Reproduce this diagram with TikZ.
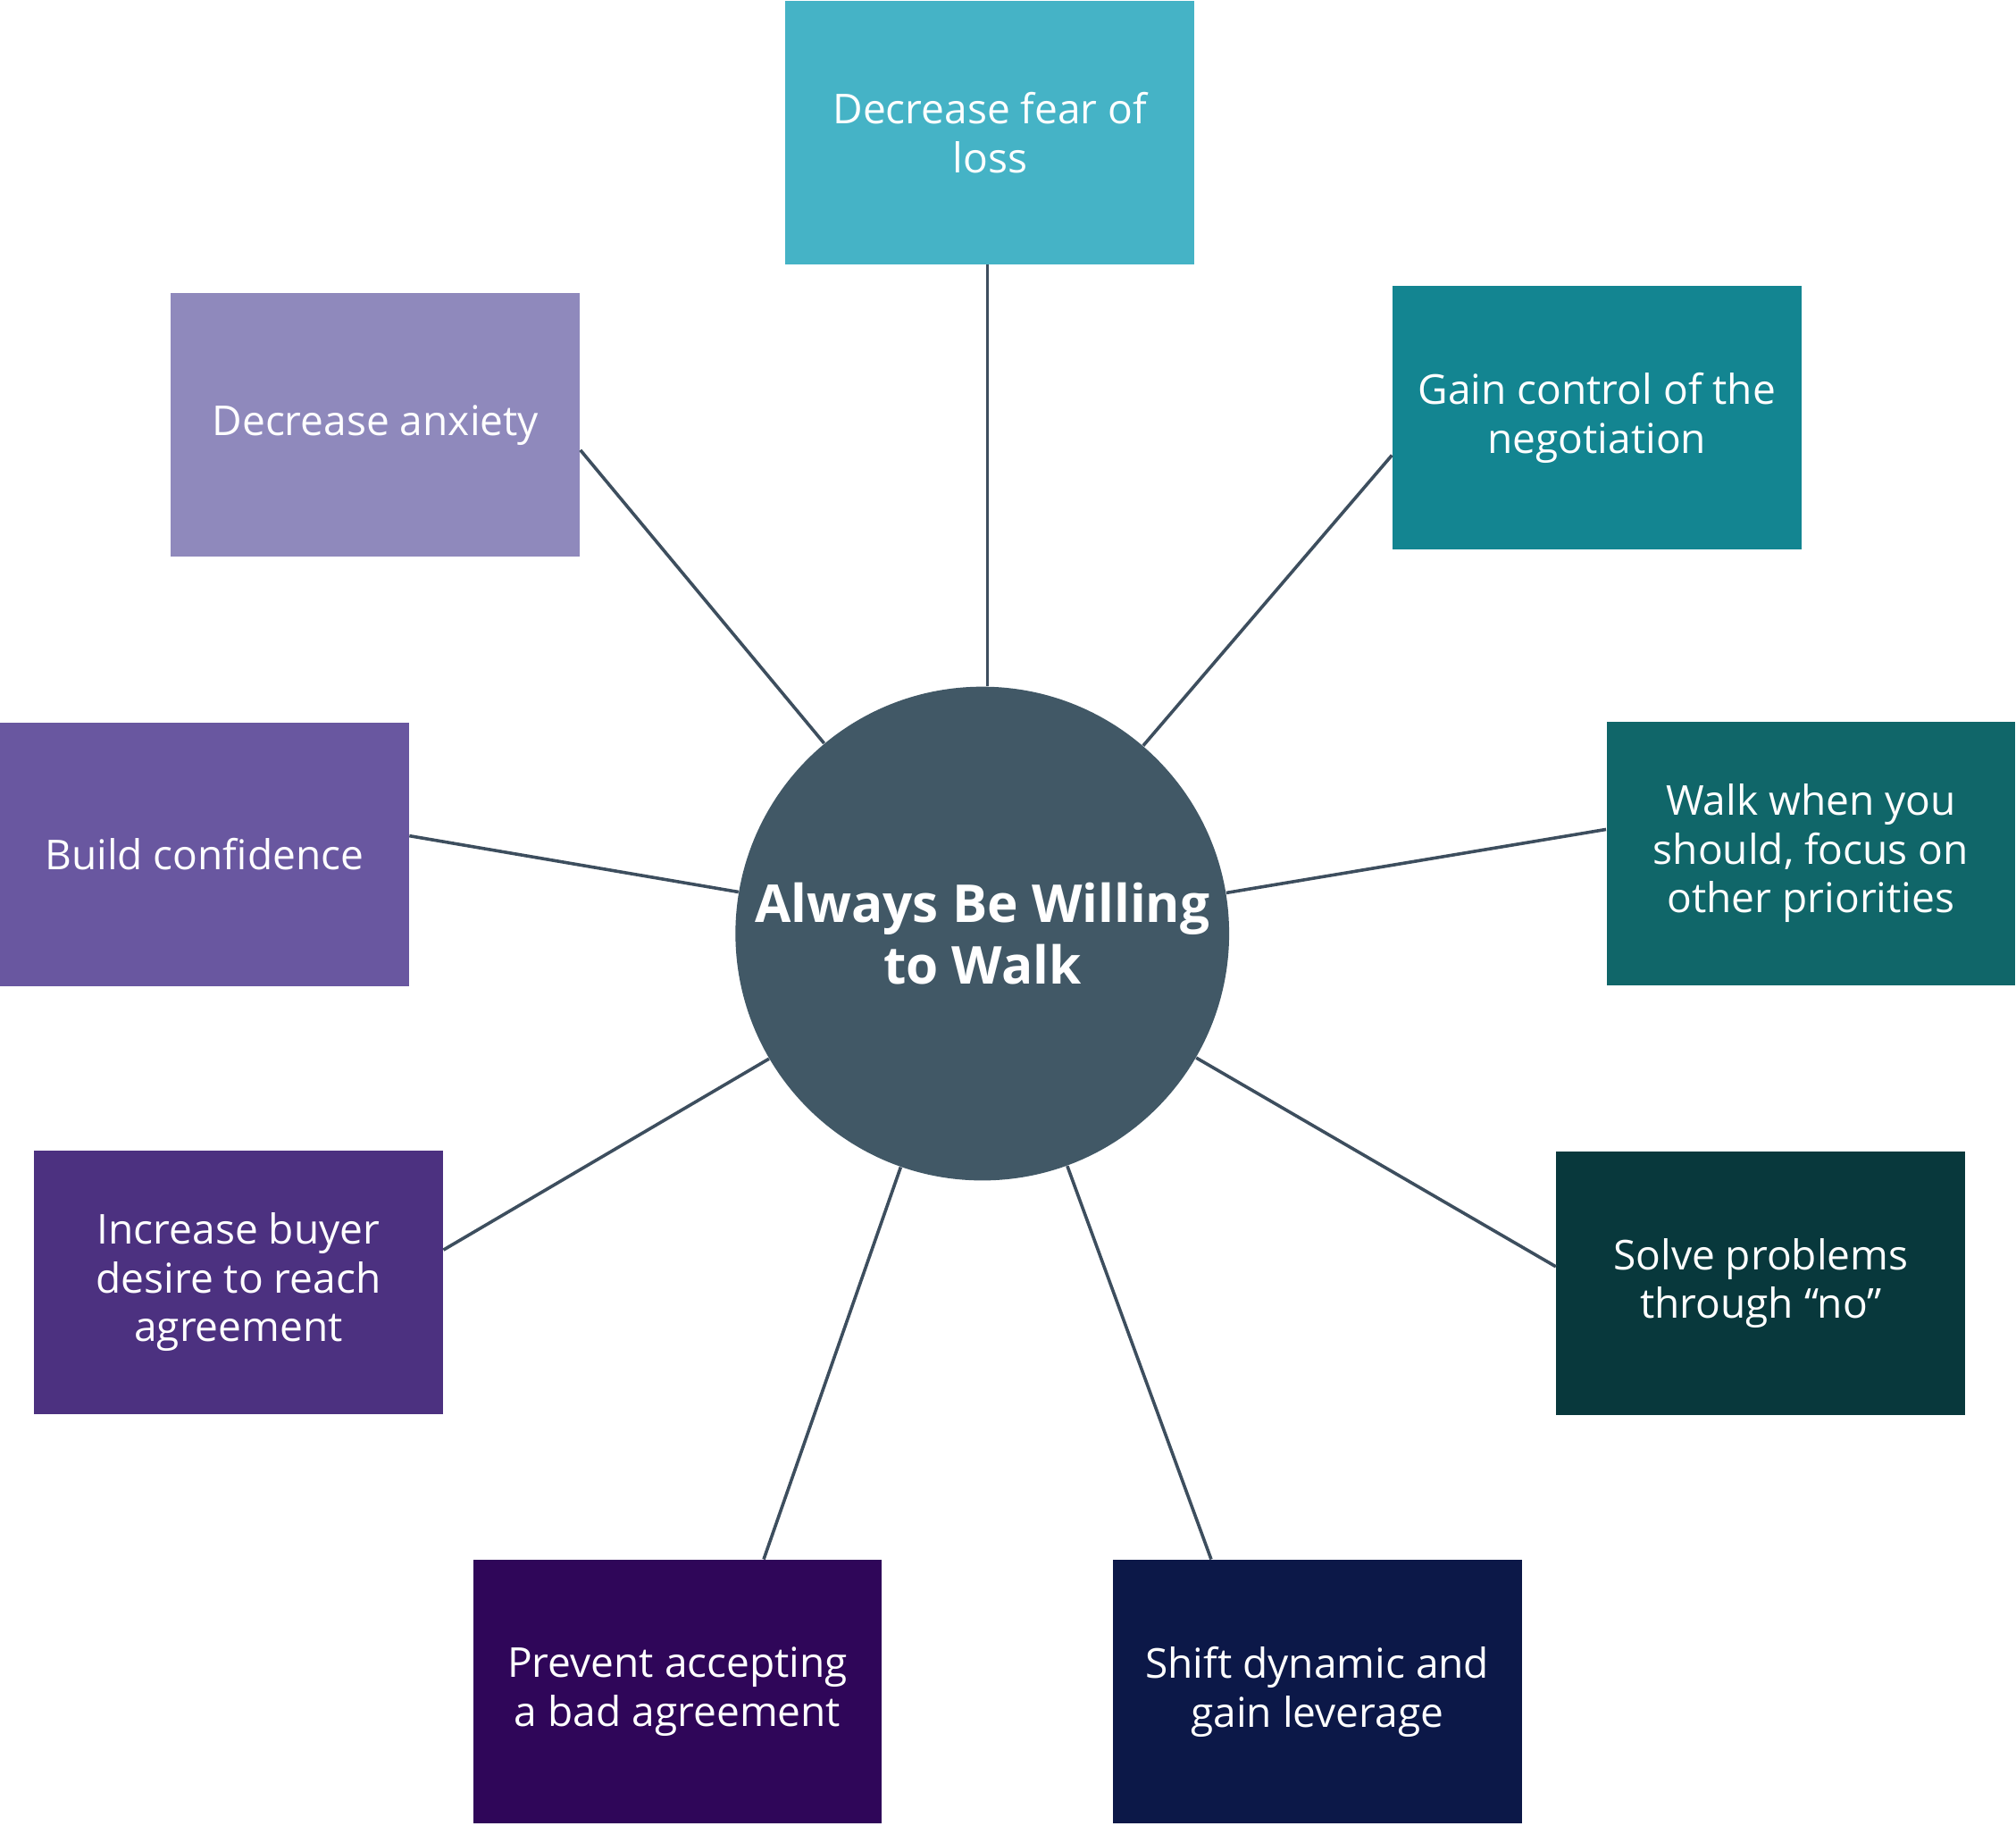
\documentclass[tikz,border=0pt]{standalone}
\usepackage{fontspec}
\setmainfont{Open Sans}
\usetikzlibrary{calc}
\definecolor{cfear}{HTML}{45B3C6}
\definecolor{cgain}{HTML}{138591}
\definecolor{cwalk}{HTML}{106669}
\definecolor{csolve}{HTML}{08383C}
\definecolor{cshift}{HTML}{0C1848}
\definecolor{cprevent}{HTML}{2F0659}
\definecolor{cincrease}{HTML}{4C3180}
\definecolor{cbuild}{HTML}{6957A0}
\definecolor{canxiety}{HTML}{8F89BC}
\definecolor{ccircle}{HTML}{415866}
\definecolor{cline}{HTML}{3D4E5E}
\tikzset{
  box/.style={rectangle, inner sep=0pt, minimum width=159pt, minimum height=102.5pt,
    text=white, align=center, font=\fontsize{16}{19}\selectfont},
  hub/.style={circle, fill=ccircle, inner sep=0pt, minimum size=192pt, text=white,
    align=center, font=\fontsize{20.3}{24}\selectfont\bfseries},
  link/.style={draw=cline, line width=1.25pt}
}
\begin{document}
\begin{tikzpicture}[x=0.5pt,y=-0.5pt]
\useasboundingbox (0,0) rectangle (1568,1420);
\node[hub] (c) at (764,726) {Always Be Willing\\to Walk};
\node[box, fill=cfear] (fear) at (770,103) {Decrease fear of\\loss};
\node[box, fill=cgain] (gain) at (1242,325) {Gain control of the\\negotiation};
\node[box, fill=cwalk] (walk) at (1408.5,663.5) {Walk when you\\should, focus on\\other priorities};
\node[box, fill=csolve] (solve) at (1369.5,998) {Solve problems\\through “no”};
\node[box, fill=cshift] (shift) at (1024.5,1315.5) {Shift dynamic and\\gain leverage};
\node[box, fill=cprevent] (prevent) at (527,1315.5) {Prevent accepting\\a bad agreement};
\node[box, fill=cincrease] (increase) at (185.5,997) {Increase buyer\\desire to reach\\agreement};
\node[box, fill=cbuild] (build) at (159,664.5) {Build confidence};
\node[box, fill=canxiety] (anxiety) at (292,330.5) {Decrease anxiety};
\coordinate (fearpt) at ($(fear.south)+(-2,0)$);
\draw[link] (fearpt) -- (fearpt |- c.north);
\draw[link] ($(gain.west)+(0,29)$) -- (c);
\draw[link] ($(walk.west)+(0,-18.5)$) -- (c);
\draw[link] ($(solve.west)+(0,-13)$) -- (c);
\draw[link] ($(shift.north)+(-82.5,0)$) -- (c);
\draw[link] ($(prevent.north)+(67,0)$) -- (c);
\draw[link] ($(increase.east)+(0,-25)$) -- (c);
\draw[link] ($(build.east)+(0,-14.5)$) -- (c);
\draw[link] ($(anxiety.east)+(0,19.5)$) -- (c);
\end{tikzpicture}
\end{document}
